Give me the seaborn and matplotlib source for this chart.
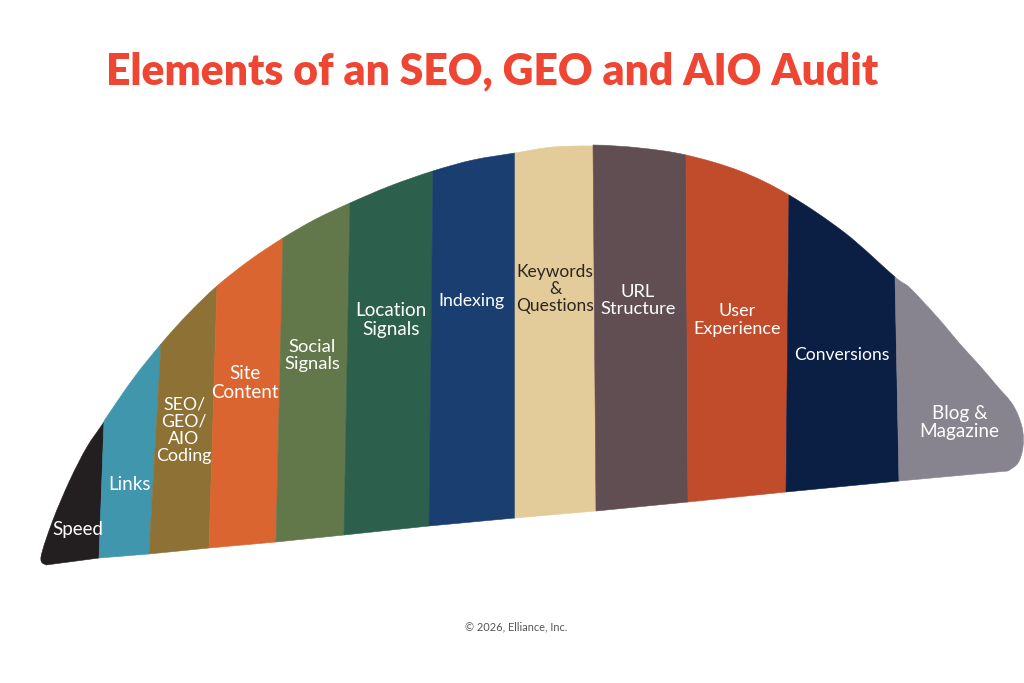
"""
Elements of an SEO, GEO and AIO Audit: dome of coloured bands.
Coordinates are read off the picture, in pixels from the top left.
"""

import matplotlib.pyplot as plt
import numpy as np
import seaborn as sns
from matplotlib.patches import PathPatch
from matplotlib.path import Path

titulo = "Elements of an SEO, GEO and AIO Audit"
pie = "© 2026, Elliance, Inc."

categorias = ["Speed", "Links", "SEO/\nGEO/\nAIO\nCoding", "Site\nContent", "Social\nSignals",
              "Location\nSignals", "Indexing", "Keywords\n&\nQuestions", "URL\nStructure",
              "User\nExperience", "Conversions", "Blog &\nMagazine"]
colores = ["#231F20", "#3F96AD", "#8E7235", "#DB6531", "#62784A", "#2D5F4D",
           "#1A3E70", "#E4CB9A", "#614E52", "#C04C2C", "#0B1F45", "#878490"]
colores_texto = ["white"] * 7 + ["#2b2620"] + ["white"] * 4

# borde superior de cada banda
bordes_sup = [
    [(46, 565), (41, 557), (53, 520), (70, 480), (87, 447), (104, 422)],
    [(104, 421), (133, 379), (161, 344)],
    [(161, 344), (188, 314), (217, 286)],
    [(217, 286), (250, 260), (283, 238)],
    [(283, 238), (316, 219), (350, 203)],
    [(350, 203), (390, 186), (433, 171)],
    [(433, 171), (473, 160), (515, 153)],
    [(515, 153), (553, 147), (593, 146)],
    [(593, 145), (640, 148), (686, 155)],
    [(686, 155), (740, 171), (789, 195)],
    [(789, 195), (845, 233), (895, 277)],
    [(895, 277), (910, 288), (938, 318), (960, 344), (980, 366), (997, 386),
     (1013, 405), (1022, 427), (1023, 447), (1018, 463), (1008, 471)],
]
# borde inferior de cada banda, de derecha a izquierda
bordes_inf = [
    [(99, 558)],
    [(149, 554), (99, 558)],
    [(209, 548), (149, 554)],
    [(276, 542), (209, 548)],
    [(344, 535), (276, 542)],
    [(429, 526), (344, 535)],
    [(515, 518), (429, 526)],
    [(596, 511), (515, 518)],
    [(688, 502), (596, 511)],
    [(786, 492), (688, 502)],
    [(899, 481), (786, 492)],
    [(899, 481)],
]
# centro y tamano de cada rotulo
x_rotulos = [78, 130, 184, 244.5, 312.5, 391, 471.5, 555, 638, 737, 842, 959.5]
y_rotulos = [529, 484, 430, 383, 355.5, 320, 301, 289, 300.5, 320, 355, 422.5]
tamanos = [13.5, 13.5, 12.8, 13.5, 13.2, 13.6, 12.7, 12.5, 13.2, 13, 12.6, 13.6]


def trazar_banda(superior, inferior, previo, siguiente):
    """Curva suave por el borde superior, con tangentes que siguen a las bandas vecinas."""
    p = np.array(superior, dtype=float)
    extremos = np.vstack([previo, p, siguiente])
    verts = [tuple(p[0])]
    codes = [Path.MOVETO]
    for i in range(1, len(extremos) - 2):
        c1 = extremos[i] + (extremos[i + 1] - extremos[i - 1]) / 6
        c2 = extremos[i + 1] - (extremos[i + 2] - extremos[i]) / 6
        verts += [tuple(c1), tuple(c2), tuple(extremos[i + 1])]
        codes += [Path.CURVE4] * 3
    for punto in inferior:
        verts.append(punto)
        codes.append(Path.LINETO)
    verts.append(tuple(p[0]))
    codes.append(Path.CLOSEPOLY)
    return Path(verts, codes)


sns.set_theme(style="white")
plt.rcParams['font.family'] = ['Lato', 'DejaVu Sans']
paleta = sns.color_palette(colores)

fig, ax = plt.subplots(figsize=(10.24, 6.83), dpi=100)
fig.subplots_adjust(left=0, right=1, top=1, bottom=0)
ax.set_xlim(0, 1024)
ax.set_ylim(683, 0)
ax.axis("off")

for k, (sup, inf, color) in enumerate(zip(bordes_sup, bordes_inf, paleta)):
    previo = bordes_sup[k - 1][-2] if k > 0 else sup[0]
    siguiente = bordes_sup[k + 1][1] if k < len(bordes_sup) - 1 else sup[-1]
    ax.add_patch(PathPatch(trazar_banda(sup, inf, previo, siguiente),
                           facecolor=color, edgecolor=color, linewidth=0.4))

for nombre, x, y, c, t in zip(categorias, x_rotulos, y_rotulos, colores_texto, tamanos):
    ax.text(x, y, nombre, ha="center", va="center", color=c, fontsize=t, linespacing=1.1)

ax.text(492.5, 71, titulo, ha="center", va="center", color="#EE4632", fontsize=30.7, fontweight="heavy")
ax.text(516.5, 627, pie, ha="center", va="center", color="#555555", fontsize=7.9)

plt.savefig("out.png", dpi=100)
plt.close()
